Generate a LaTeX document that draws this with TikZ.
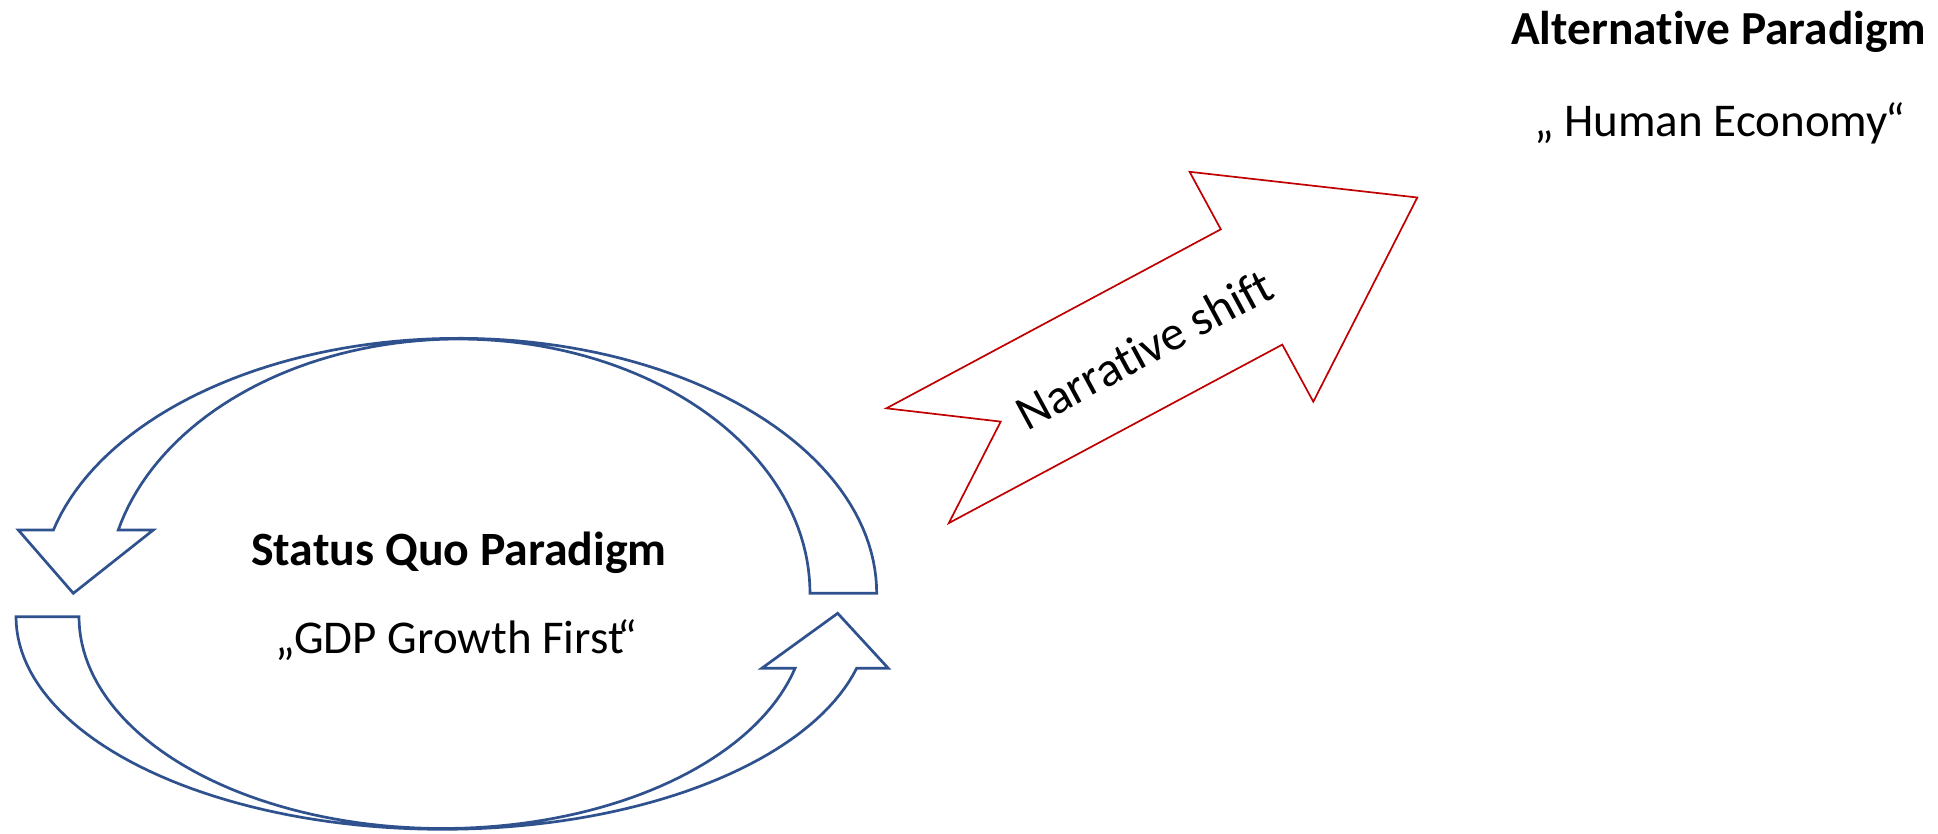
\documentclass[tikz,border=0pt]{standalone}
\usepackage{fontspec}
\setmainfont{Carlito}[Ligatures={NoCommon,NoContextual}]
\definecolor{loopblue}{HTML}{2F528F}
\definecolor{shiftred}{HTML}{C00000}
\tikzset{
  looparrow/.style={draw=loopblue, line width=2.7pt, fill=white, line join=miter},
  shiftarrow/.style={draw=shiftred, line width=1.7pt, fill=white, line join=miter},
  titletext/.style={inner sep=0pt, anchor=base west, font=\fontsize{47.8}{56}\selectfont\bfseries},
  subtext/.style={inner sep=0pt, anchor=base west, font=\fontsize{47}{56}\selectfont},
}
\begin{document}
\begin{tikzpicture}[x=1pt, y=-1pt]
\useasboundingbox (0,0) rectangle (1938,833);
% upper curved arrow (pointing down at left)
\draw[looparrow]
  plot[domain=0:-165.63, samples=90, variable=\t] ({458.5+418.2*cos(\t)},{593.3+255*sin(\t)})
  -- (18.3,530) -- (73.3,593.3) -- (153.3,530)
  -- plot[domain=-165.59:0, samples=90, variable=\t] ({458.6+351.4*cos(\t)},{593.3+254.3*sin(\t)})
  -- cycle;
% lower curved arrow (pointing up at right)
\draw[looparrow]
  plot[domain=180:14.05, samples=90, variable=\t] ({442.7+426.7*cos(\t)},{616.7+212.6*sin(\t)})
  -- (888.3,668.3) -- (837.7,613.3) -- (761.7,668.3)
  -- plot[domain=14.10:180, samples=90, variable=\t] ({442.5+363.5*cos(\t)},{616.7+211.8*sin(\t)})
  -- cycle;
% narrative shift arrow
\draw[shiftarrow] (886.4,408.3) -- (1220.8,229.3) -- (1189.6,171.8) -- (1417.3,197.5)
  -- (1313.3,401.7) -- (1282.3,344.6) -- (948.8,523.1) -- (1000.7,421.6) -- cycle;
\node[inner sep=0pt, rotate=28.4, font=\fontsize{49}{58}\selectfont] (shift) at (1144,349) {Narrative shift};
% texts
\node[titletext] (sq) at (251,565) {Status Quo Paradigm};
\node[subtext] (gdp) at (275,653) {„GDP Growth First\kern-6pt“};
\node[titletext, font=\fontsize{47.4}{56}\selectfont\bfseries] (alt) at (1511,44) {Alternative Paradigm};
\node[subtext] (hum) at (1534,136) {„ Human Economy\kern-2pt“};
\end{tikzpicture}
\end{document}
